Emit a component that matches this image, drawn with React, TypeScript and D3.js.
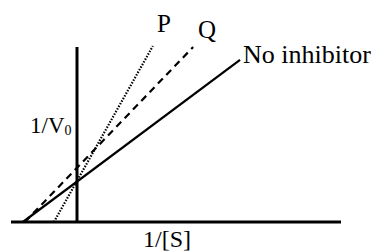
import React from 'react';
import * as d3 from 'd3';

// Lineweaver-Burk plot: endpoints of each line in (1/[S], 1/V0) units
const noInhibitor: [number, number][] = [[-0.82, 0], [2.47, 4.63]];
const lineQ: [number, number][] = [[-0.79, 0], [1.76, 5.0]];
const lineP: [number, number][] = [[-0.35, 0], [1.15, 5.03]];

const xDomain: [number, number] = [-1, 4];
const yDomain: [number, number] = [0, 5];

const W = 377;
const H = 252;

const App = () => {
    const x = d3.scaleLinear().domain(xDomain).range([11, 341]);
    const y = d3.scaleLinear().domain(yDomain).range([222, 47]);

    const line = d3.line<[number, number]>()
        .x(d => x(d[0]))
        .y(d => y(d[1]));

    const textStyle = { fontFamily: "'Liberation Serif', 'DejaVu Serif', serif" };

    return (
        <svg width={W} height={H} style={{ position: 'absolute', left: 0, top: 0, background: '#fff' }}>
            {/* axes */}
            <line x1={x(xDomain[0])} x2={x(xDomain[1])} y1={y(0)} y2={y(0)} stroke="#000" strokeWidth={3} />
            <line x1={x(0)} x2={x(0)} y1={y(0)} y2={y(yDomain[1])} stroke="#000" strokeWidth={3} />

            {/* lines */}
            <path d={line(noInhibitor) || ''} fill="none" stroke="#000" strokeWidth={2.2} />
            <path d={line(lineQ) || ''} fill="none" stroke="#000" strokeWidth={2.2} strokeDasharray="7,5" />
            <path d={line(lineP) || ''} fill="none" stroke="#000" strokeWidth={2.2} strokeDasharray="1.5,1.5" />

            {/* labels */}
            <g style={textStyle}>
                <text x={157} y={32} fontSize={25}>P</text>
                <text x={198} y={38} fontSize={25}>Q</text>
                <text x={243} y={63} fontSize={26}>No inhibitor</text>
                <text x={30} y={133} fontSize={23}>
                    1/V<tspan fontSize={14} dy={2}>0</tspan>
                </text>
                <text x={143} y={247} fontSize={24}>1/[S]</text>
            </g>
        </svg>
    );
};

export default App;
